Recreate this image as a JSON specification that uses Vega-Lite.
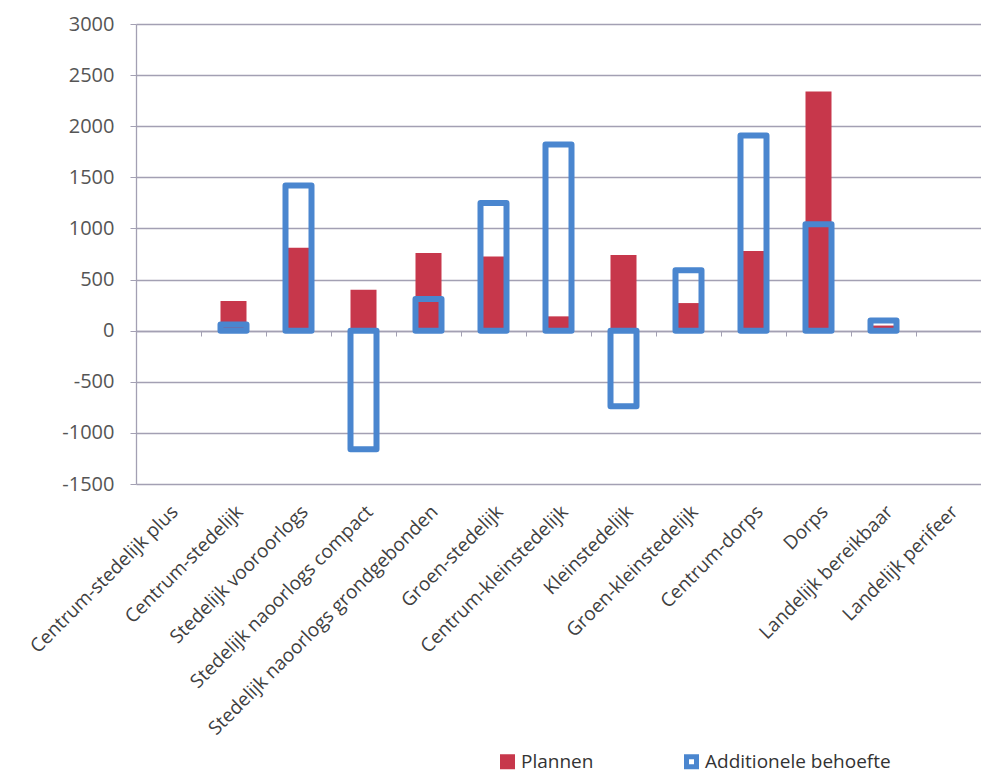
{
  "$schema": "https://vega.github.io/schema/vega-lite/v6.json",
  "autosize": "none",
  "width": 845,
  "height": 460,
  "padding": {"left": 136, "top": 24, "right": 0, "bottom": 290},
  "background": "white",
  "config": {
    "view": {"stroke": null},
    "font": "Open Sans"
  },
  "data": {
    "values": [
      {"cat": "Centrum-stedelijk", "series": "Plannen", "value": 290},
      {"cat": "Stedelijk vooroorlogs", "series": "Plannen", "value": 810},
      {"cat": "Stedelijk naoorlogs compact", "series": "Plannen", "value": 400},
      {"cat": "Stedelijk naoorlogs grondgebonden", "series": "Plannen", "value": 760},
      {"cat": "Groen-stedelijk", "series": "Plannen", "value": 725},
      {"cat": "Centrum-kleinstedelijk", "series": "Plannen", "value": 140},
      {"cat": "Kleinstedelijk", "series": "Plannen", "value": 740},
      {"cat": "Groen-kleinstedelijk", "series": "Plannen", "value": 270},
      {"cat": "Centrum-dorps", "series": "Plannen", "value": 780},
      {"cat": "Dorps", "series": "Plannen", "value": 2340},
      {"cat": "Landelijk bereikbaar", "series": "Plannen", "value": 50},
      {"cat": "Centrum-stedelijk", "series": "Additionele behoefte", "value": 60},
      {"cat": "Stedelijk vooroorlogs", "series": "Additionele behoefte", "value": 1420},
      {"cat": "Stedelijk naoorlogs compact", "series": "Additionele behoefte", "value": -1160},
      {"cat": "Stedelijk naoorlogs grondgebonden", "series": "Additionele behoefte", "value": 310},
      {"cat": "Groen-stedelijk", "series": "Additionele behoefte", "value": 1250},
      {"cat": "Centrum-kleinstedelijk", "series": "Additionele behoefte", "value": 1820},
      {"cat": "Kleinstedelijk", "series": "Additionele behoefte", "value": -740},
      {"cat": "Groen-kleinstedelijk", "series": "Additionele behoefte", "value": 590},
      {"cat": "Centrum-dorps", "series": "Additionele behoefte", "value": 1910},
      {"cat": "Dorps", "series": "Additionele behoefte", "value": 1040},
      {"cat": "Landelijk bereikbaar", "series": "Additionele behoefte", "value": 100}
    ]
  },
  "encoding": {
    "x": {
      "field": "cat",
      "type": "nominal",
      "sort": null,
      "scale": {
        "domain": ["Centrum-stedelijk plus", "Centrum-stedelijk", "Stedelijk vooroorlogs", "Stedelijk naoorlogs compact", "Stedelijk naoorlogs grondgebonden", "Groen-stedelijk", "Centrum-kleinstedelijk", "Kleinstedelijk", "Groen-kleinstedelijk", "Centrum-dorps", "Dorps", "Landelijk bereikbaar", "Landelijk perifeer"],
        "paddingInner": 0,
        "paddingOuter": 0
      }
    },
    "y": {
      "field": "value",
      "type": "quantitative",
      "scale": {"domain": [-1500, 3000], "nice": false, "zero": true},
      "axis": {
        "title": null,
        "values": [-1500, -1000, -500, 0, 500, 1000, 1500, 2000, 2500, 3000],
        "format": "d",
        "labelExpr": "replace(datum.label, '−', '-')",
        "grid": true,
        "gridColor": "#a3a0b3",
        "gridWidth": 1.3,
        "domainColor": "#a3a0b3",
        "domainWidth": 1.3,
        "tickColor": "#a3a0b3",
        "tickSize": 6,
        "labelPadding": 16,
        "labelFontSize": 20,
        "labelColor": "#555555",
        "labelFont": "Open Sans"
      }
    }
  },
  "layer": [
    {
      "transform": [{"filter": "datum.series === 'Plannen'"}],
      "mark": {"type": "bar", "width": {"band": 0.4}},
      "encoding": {
        "x": {
          "field": "cat",
          "type": "nominal",
          "sort": null,
          "axis": {
            "title": null,
            "orient": "bottom",
            "labelAngle": -45,
            "labelFontSize": 19,
            "labelColor": "#404040",
            "labelFont": "Open Sans",
            "labelPadding": 18,
            "ticks": false,
            "domain": false,
            "labelLimit": 400
          }
        },
        "fill": {
          "field": "series",
          "type": "nominal",
          "scale": {"domain": ["Plannen", "Additionele behoefte"], "range": ["#c7374b", "#ffffff"]},
          "legend": {
            "title": null,
            "orient": "none",
            "legendX": 362,
            "legendY": 728,
            "direction": "horizontal",
            "columnPadding": 82,
            "symbolType": "square",
            "symbolSize": 100,
            "symbolStrokeWidth": 5,
            "labelFontSize": 19,
            "labelFont": "Open Sans",
            "labelColor": "#333333",
            "labelOffset": 4,
            "labelLimit": 400
          }
        }
      }
    },
    {
      "transform": [{"filter": "datum.series === 'Additionele behoefte'"}],
      "mark": {"type": "bar", "width": {"band": 0.4}, "fill": "transparent", "strokeWidth": 6, "strokeJoin": "round"},
      "encoding": {
        "x": {
          "field": "cat",
          "type": "nominal",
          "sort": null,
          "axis": {
            "title": null,
            "orient": "bottom",
            "offset": -153,
            "labels": false,
            "ticks": true,
            "tickBand": "extent",
            "tickSize": 5,
            "tickColor": "#a3a0b3",
            "domainColor": "#a3a0b3",
            "domainWidth": 1.3
          }
        },
        "stroke": {
          "field": "series",
          "type": "nominal",
          "scale": {"domain": ["Plannen", "Additionele behoefte"], "range": ["#c7374b", "#4a86cf"]},
          "legend": {
            "title": null,
            "orient": "none",
            "legendX": 362,
            "legendY": 728,
            "direction": "horizontal",
            "columnPadding": 82,
            "symbolType": "square",
            "symbolSize": 100,
            "symbolStrokeWidth": 5,
            "labelFontSize": 19,
            "labelFont": "Open Sans",
            "labelColor": "#333333",
            "labelOffset": 4,
            "labelLimit": 400
          }
        }
      }
    }
  ],
  "resolve": {"axis": {"x": "independent"}}
}
